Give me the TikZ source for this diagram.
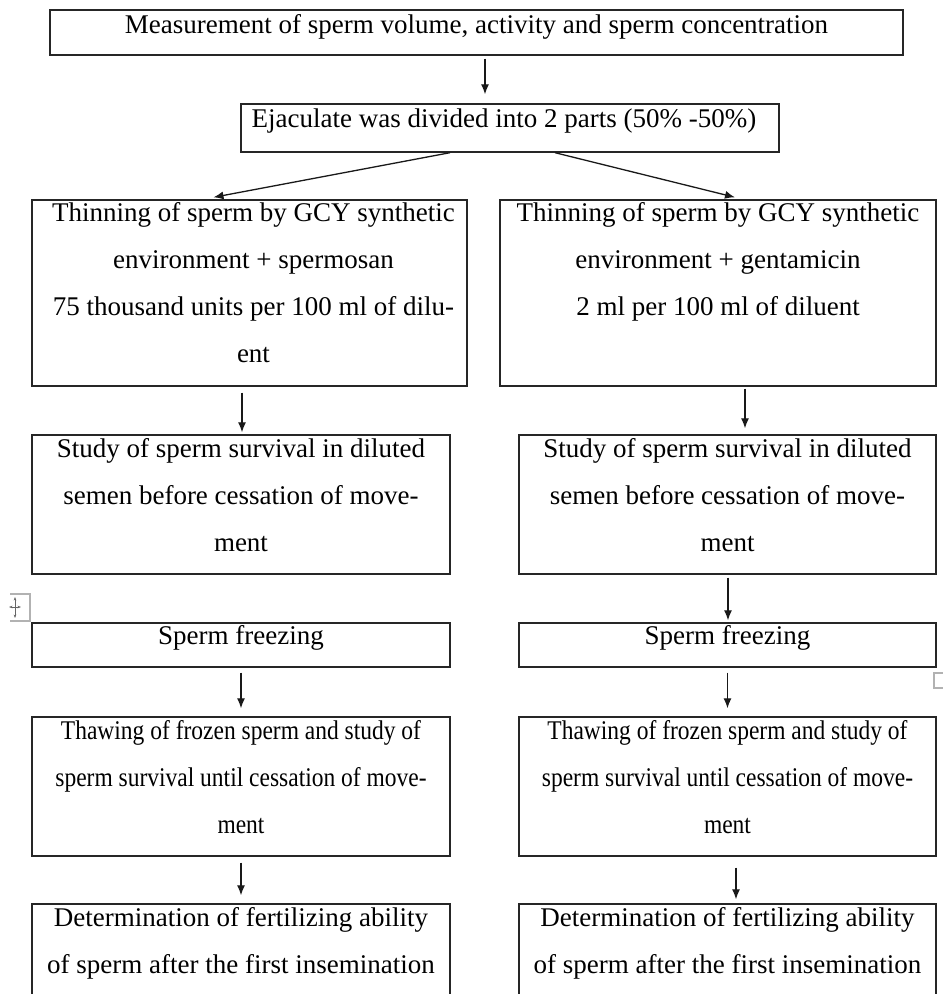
\documentclass[tikz,border=0pt]{standalone}
\usepackage{fontspec}
\setmainfont{Liberation Serif}
\usepackage{graphicx}
\usetikzlibrary{arrows.meta,calc}
\newcommand{\cond}[1]{\scalebox{0.87}[1]{#1}}
\begin{document}
\begin{tikzpicture}[x=1pt,y=-1pt,
  box/.style={draw=black!85,line width=1.4pt,rectangle,inner sep=0pt},
  txt/.style={anchor=north,align=center,inner sep=0pt,font=\fontsize{27}{47}\selectfont},
  arr/.style={draw=black!90,line width=1.3pt,-{Latex[length=10pt,width=8pt]}}]
\useasboundingbox (0,0) rectangle (943,994);
% boxes
\node[box,minimum width=853pt,minimum height=45pt] (top) at (476.5,32.5) {};
\node[box,minimum width=538pt,minimum height=48pt] (div) at (510,128) {};
\node[box,minimum width=435pt,minimum height=186pt] (l3) at (249.5,293) {};
\node[box,minimum width=436pt,minimum height=186pt] (r3) at (718,293) {};
\node[box,minimum width=418pt,minimum height=139pt] (l4) at (241,504.5) {};
\node[box,minimum width=417pt,minimum height=139pt] (r4) at (727.5,504.5) {};
\node[box,minimum width=418pt,minimum height=44pt] (l5) at (241,645) {};
\node[box,minimum width=417pt,minimum height=44pt] (r5) at (727.5,645) {};
\node[box,minimum width=418pt,minimum height=139pt] (l6) at (241,786.5) {};
\node[box,minimum width=417pt,minimum height=139pt] (r6) at (727.5,786.5) {};
\node[box,minimum width=418pt,minimum height=120pt] (l7) at (241,964) {};
\node[box,minimum width=417pt,minimum height=120pt] (r7) at (727.5,964) {};
% texts
\node[txt] (ttop) at ($(top.north)+(0,5)$) {Measurement of sperm volume, activity and sperm concentration};
\node[txt] (tdiv) at ($(div.north)+(-6,5)$) {Ejaculate was divided into 2 parts (50\% -50\%)};
\node[txt] (tl3) at ($(l3.north)+(4,3)$) {Thinning of sperm by GCY synthetic\\environment + spermosan\\75 thousand units per 100 ml of dilu-\\ent};
\node[txt] (tr3) at ($(r3.north)+(0,3)$) {Thinning of sperm by GCY synthetic\\environment + gentamicin\\2 ml per 100 ml of diluent};
\node[txt] (tl4) at ($(l4.north)+(0,4)$) {Study of sperm survival in diluted\\semen before cessation of move-\\ment};
\node[txt] (tr4) at ($(r4.north)+(0,4)$) {Study of sperm survival in diluted\\semen before cessation of move-\\ment};
\node[txt] (tl5) at ($(l5.north)+(0,3)$) {Sperm freezing};
\node[txt] (tr5) at ($(r5.north)+(0,3)$) {Sperm freezing};
\node[txt] (tl6) at ($(l6.north)+(0,4)$) {\cond{Thawing of frozen sperm and study of}\\\cond{sperm survival until cessation of move-}\\\cond{ment}};
\node[txt] (tr6) at ($(r6.north)+(0,4)$) {\cond{Thawing of frozen sperm and study of}\\\cond{sperm survival until cessation of move-}\\\cond{ment}};
\node[txt] (tl7) at ($(l7.north)+(0,4)$) {Determination of fertilizing ability\\of sperm after the first insemination};
\node[txt] (tr7) at ($(r7.north)+(0,4)$) {Determination of fertilizing ability\\of sperm after the first insemination};
% connectors
\draw[arr] ($(top.south)+(8.5,3)$) -- ($(div.north)+(-25,-9)$);
\draw[arr] ($(div.south)+(-60,0)$) -- ($(l3.north)+(-36,-2)$);
\draw[arr] ($(div.south)+(45,0)$) -- ($(r3.north)+(17,-2)$);
\draw[arr] ($(l3.south)+(-7.5,6)$) -- ($(l4.north)+(1,-2)$);
\draw[arr] ($(r3.south)+(27,2)$) -- ($(r4.north)+(17.5,-6)$);
\draw[arr] ($(r4.south)+(0.5,3)$) -- ($(r5.north)+(0.5,-2)$);
\draw[arr] ($(l5.south)+(0,5)$) -- ($(l6.north)+(0,-8)$);
\draw[arr] ($(r5.south)+(0,5)$) -- ($(r6.north)+(0,-8)$);
\draw[arr] ($(l6.south)+(0,6)$) -- ($(l7.north)+(0,-8)$);
\draw[arr] ($(r6.south)+(8.5,11)$) -- ($(r7.north)+(8.5,-4)$);
% editor artefacts
\draw[black!30,line width=1.2pt] (10,594) -- (30,594) -- (30,621) -- (10,621);
\draw[black!60,line width=1pt,{Stealth[length=3.5pt]}-{Stealth[length=3.5pt]}] (15,597) -- (15,618);
\draw[black!60,line width=1pt,{Stealth[length=3.5pt]}-{Stealth[length=3.5pt]}] (9,607) -- (21,607);
\draw[black!30,line width=1.2pt] (943,673) -- (934,673) -- (934,688) -- (943,688);
\end{tikzpicture}
\end{document}
